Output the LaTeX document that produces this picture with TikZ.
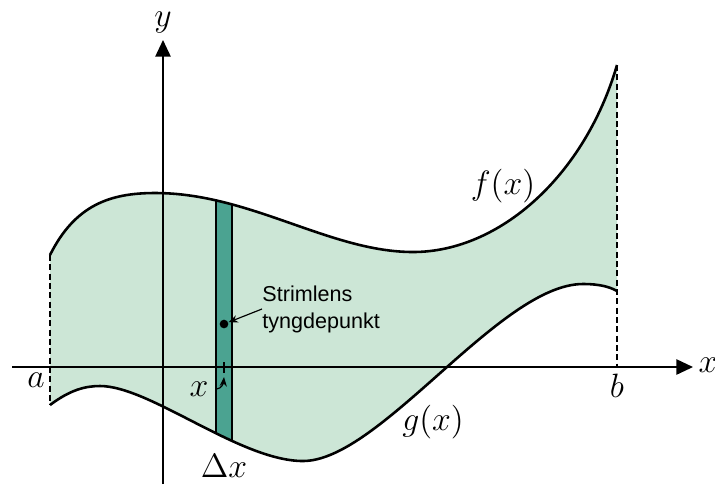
\documentclass[tikz,border=0pt]{standalone}
\usepackage{fontspec}
\setsansfont{Liberation Sans}
\usetikzlibrary{arrows.meta}
\definecolor{areagreen}{RGB}{204,230,214}
\definecolor{stripgreen}{RGB}{75,163,145}

\begin{document}
\begin{tikzpicture}[
    x=0.15mm, y=-0.15mm,
    every node/.style={font=\Large},
    curve/.style={line width=1.1pt},
    axis/.style={line width=0.7pt, -{Triangle[length=2.5mm, width=2.3mm]}},
    bound/.style={line width=0.45pt, dash pattern=on 0.9mm off 0.5mm},
    edge/.style={line width=0.7pt},
    ptr/.style={line width=0.5pt, -{Stealth[length=1.4mm, width=1.1mm]}},
    note/.style={font=\sffamily\fontsize{9.2}{11.5}\selectfont,
                 align=left, inner sep=0pt}
]
    \useasboundingbox (0,0) rectangle (715,486);

    % end points of the curves and axes
    \coordinate (fa) at (50,255);
    \coordinate (fb) at (617,65);
    \coordinate (ga) at (50,405);
    \coordinate (gb) at (617,291);
    \coordinate (bx) at (617,367);
    \coordinate (xs) at (12,367);
    \coordinate (xe) at (693,367);
    \coordinate (ys) at (163,484);
    \coordinate (ye) at (163,40);

    % region between f and g
    \path[save path=\areapath] (fa) .. controls (75,205) and (110,193) .. (155,193)
        .. controls (250,193) and (330,252) .. (413,252)
        .. controls (500,252) and (585,175) .. (fb)
        -- (gb) .. controls (610,287) and (600,284) .. (583,284)
        .. controls (500,284) and (380,461) .. (303,461)
        .. controls (240,461) and (150,386) .. (100,386)
        .. controls (85,386) and (70,390) .. (ga) -- cycle;
    \fill[areagreen, use path=\areapath];

    % the strip
    \begin{scope}
        \clip[use path=\areapath];
        \fill[stripgreen] (216,150) rectangle (232,480);
        \draw[edge] (216,150) -- (216,480) (232,150) -- (232,480);
    \end{scope}

    \draw[bound] (fa) -- (ga);
    \draw[bound] (fb) -- (bx);

    \draw[axis] (xs) -- (xe);
    \draw[axis] (ys) -- (ye);

    \draw[curve] (fa) .. controls (75,205) and (110,193) .. (155,193)
        .. controls (250,193) and (330,252) .. (413,252)
        .. controls (500,252) and (585,175) .. (fb);
    \draw[curve] (ga) .. controls (70,390) and (85,386) .. (100,386)
        .. controls (150,386) and (240,461) .. (303,461)
        .. controls (380,461) and (500,284) .. (583,284)
        .. controls (600,284) and (610,287) .. (gb);

    % labels
    \node (ylab) at (163,23) {$y$};
    \node (xlab) at (708,365) {$x$};
    \node (alab) at (36,380) {$a$};
    \node (blab) at (617,386) {$b$};
    \node (flab) at (503,186) {$f(x)$};
    \node (glab) at (433,422) {$g(x)$};
    \node (dx) at (224,466) {$\Delta x$};

    % centre of mass of the strip
    \node[circle, fill=black, inner sep=0pt, minimum size=1.3mm] (cg) at (224,324) {};
    \node[note, anchor=west] (cgtext) at (262,309) {Strimlens\\tyngdepunkt};
    \draw[ptr] (cgtext.west) -- (cg);

    \coordinate (xt) at (224,362);
    \coordinate (xb) at (224,373);
    \draw[edge] (xt) -- (xb);
    \node (xm) at (199,389) {$x$};
    \draw[ptr] (xm.east) to[out=5, in=-95] (224,377);
\end{tikzpicture}
\end{document}
